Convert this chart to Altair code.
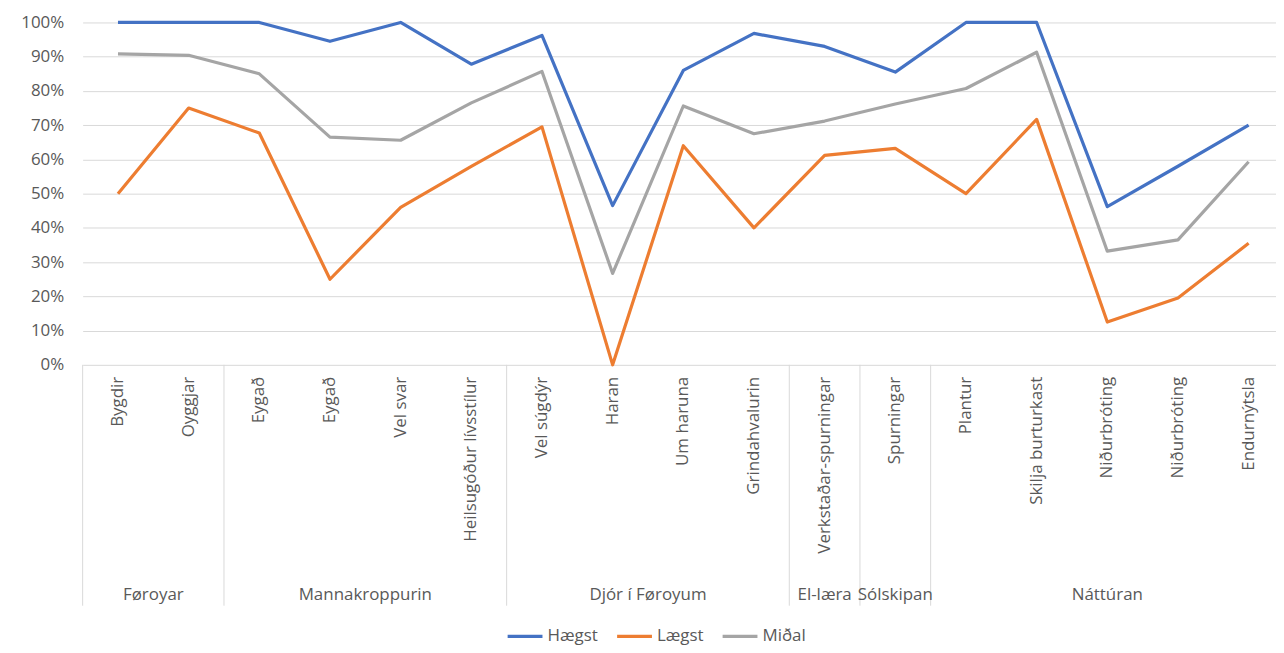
import altair as alt
import pandas as pd

categories = ["Bygdir", "Oyggjar", "Eygað", "Eygað", "Vel svar", "Heilsugóður lívsstílur",
              "Vel súgdýr", "Haran", "Um haruna", "Grindahvalurin", "Verkstaðar-spurningar",
              "Spurningar", "Plantur", "Skilja burturkast", "Niðurbróting", "Niðurbróting",
              "Endurnýtsla"]
groups = ["Føroyar", "Mannakroppurin", "Djór í Føroyum", "El-læra", "Sólskipan", "Náttúran"]
group_sizes = [2, 4, 4, 1, 1, 5]

haegst = [1.00, 1.00, 1.00, 0.945, 1.00, 0.878, 0.962, 0.465, 0.86, 0.968, 0.93, 0.855,
          1.00, 1.00, 0.462, 0.58, 0.70]
laegst = [0.50, 0.75, 0.677, 0.25, 0.46, 0.58, 0.695, 0.0, 0.64, 0.40, 0.612, 0.632,
          0.50, 0.717, 0.125, 0.195, 0.355]
midal = [0.908, 0.904, 0.85, 0.665, 0.656, 0.765, 0.857, 0.267, 0.756, 0.675, 0.712, 0.762,
         0.807, 0.913, 0.332, 0.365, 0.593]
y_ticks = [0.0, 0.1, 0.2, 0.3, 0.4, 0.5, 0.6, 0.7, 0.8, 0.9, 1.0]

series_names = ["Hægst", "Lægst", "Miðal"]
series_colors = ["#4472C4", "#ED7D31", "#A5A5A5"]

FONT = "Open Sans"
FS = 17
TXT = "#595959"
GRID = "#D9D9D9"
W, H = 1199, 344
XR = 1207

rows = []
for name, vals in zip(series_names, [haegst, laegst, midal]):
    for i, v in enumerate(vals):
        rows.append({"pos": i + 0.5, "series": name, "value": v, "order": i})
df = pd.DataFrame(rows)

cat_df = pd.DataFrame({"pos": [i + 0.5 for i in range(len(categories))], "label": categories})

starts = []
s = 0
for n in group_sizes:
    starts.append(s)
    s += n
grp_df = pd.DataFrame({"pos": [st + n / 2 for st, n in zip(starts, group_sizes)], "label": groups})
sep_df = pd.DataFrame({"pos": starts})

xscale = alt.Scale(domain=[0, len(categories)], range=[0, XR], nice=False, zero=False)

lines = alt.Chart(df).mark_line(strokeWidth=3.2, strokeJoin="round").encode(
    x=alt.X("pos:Q", scale=xscale,
            axis=alt.Axis(labels=False, ticks=False, grid=False, domain=False, title=None)),
    y=alt.Y("value:Q", scale=alt.Scale(domain=[0, 1], nice=False),
            axis=alt.Axis(format=".0%", values=y_ticks, labelOverlap=False,
                          grid=True, gridColor=GRID, gridWidth=1, domain=False, ticks=False,
                          labelFont=FONT, labelFontSize=FS, labelColor=TXT, labelPadding=19,
                          title=None)),
    color=alt.Color("series:N",
                    scale=alt.Scale(domain=series_names, range=series_colors),
                    legend=alt.Legend(orient="none", legendX=425, legendY=597, direction="horizontal",
                                      title=None, symbolType="stroke", symbolSize=1225,
                                      symbolStrokeWidth=3.2, labelFont=FONT, labelFontSize=FS,
                                      labelColor=TXT, labelOffset=3, columnPadding=12)),
    order="order:Q",
)

cat_text = alt.Chart(cat_df).mark_text(angle=270, align="right", baseline="middle",
                                       font=FONT, fontSize=FS, color=TXT).encode(
    x=alt.X("pos:Q", scale=xscale),
    y=alt.value(H + 12),
    text="label:N",
)

grp_text = alt.Chart(grp_df).mark_text(align="center", baseline="middle",
                                       font=FONT, fontSize=FS, color=TXT).encode(
    x=alt.X("pos:Q", scale=xscale),
    y=alt.value(H + 231),
    text="label:N",
)

seps = alt.Chart(sep_df).mark_rule(color=GRID, strokeWidth=1).encode(
    x=alt.X("pos:Q", scale=xscale),
    y=alt.value(H),
    y2=alt.value(H + 242),
)

border = alt.Chart(pd.DataFrame({"a": [0]})).mark_rule(color=GRID, strokeWidth=1).encode(
    x=alt.value(-76), y=alt.value(-13), y2=alt.value(640),
)

chart = alt.layer(seps, border, lines, cat_text, grp_text).properties(
    width=W, height=H,
    autosize=alt.AutoSizeParams(type="none"),
    padding={"left": 75, "top": 13, "right": 0, "bottom": 288},
).configure_view(stroke=None)

chart.save("out.html", embed_options={"renderer": "svg", "actions": False})
